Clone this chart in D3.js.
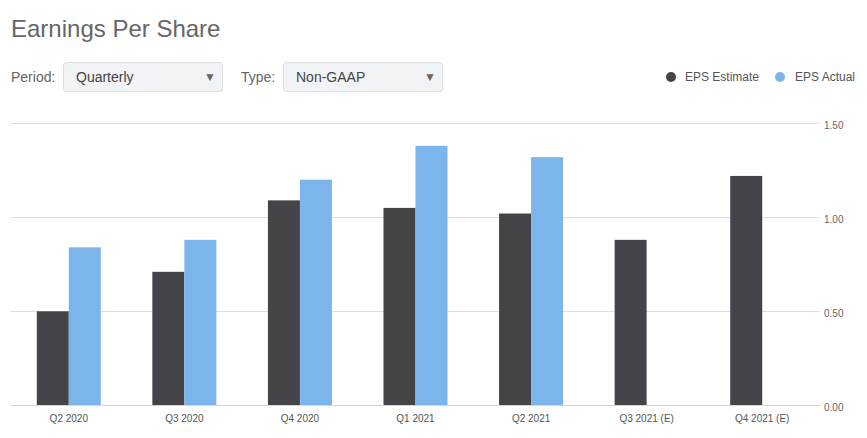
<!DOCTYPE html>
<html><head><meta charset="utf-8">
<script src="https://cdn.jsdelivr.net/npm/d3@7"></script>
<style>
body{margin:0;background:#fff;font-family:"Liberation Sans",Arial,sans-serif;}
</style></head>
<body><svg id="c" width="867" height="438"></svg>
<script>
const categories = ["Q2 2020","Q3 2020","Q4 2020","Q1 2021","Q2 2021","Q3 2021 (E)","Q4 2021 (E)"];
const epsEstimate = [0.50, 0.71, 1.09, 1.05, 1.02, 0.88, 1.22];
const epsActual = [0.84, 0.88, 1.20, 1.38, 1.32, null, null];
const yTicks = [0, 0.5, 1.0, 1.5];
const seriesNames = ["EPS Estimate","EPS Actual"];
const seriesColors = ["#434348","#7cb5ec"];

const svg = d3.select("#c");
const F = '"Liberation Sans",Arial,sans-serif';

svg.append("text").attr("x",11).attr("y",37).attr("font-size",24).attr("fill","#666").attr("font-family",F).text("Earnings Per Share");

function dropdown(lx, label, bx, bw, val){
  svg.append("text").attr("x",lx).attr("y",82).attr("font-size",14).attr("fill","#666").attr("font-family",F).text(label);
  svg.append("rect").attr("x",bx+0.5).attr("y",62.5).attr("width",bw).attr("height",29).attr("rx",3).attr("fill","#f2f3f6").attr("stroke","#dcdde0");
  svg.append("text").attr("x",bx+13).attr("y",82).attr("font-size",14).attr("fill","#444").attr("font-family",F).text(val);
  svg.append("text").attr("x",bx+bw-18).attr("y",81).attr("font-size",12).attr("fill","#666").attr("font-family",F).text("▼");
}
dropdown(11,"Period:",63,159,"Quarterly");
dropdown(241,"Type:",283,159,"Non-GAAP");

// legend
const leg = [{x:671,tx:685},{x:780,tx:795}];
seriesNames.forEach((n,i)=>{
  svg.append("circle").attr("cx",leg[i].x).attr("cy",77).attr("r",5).attr("fill",seriesColors[i]);
  svg.append("text").attr("x",leg[i].tx).attr("y",81).attr("font-size",12).attr("fill","#555").attr("font-family",F).text(n);
});

const x = d3.scaleBand().domain(categories).range([11,820]).padding(0);
const y = d3.scaleLinear().domain([0,1.5]).range([405.3,123.3]);

// gridlines
svg.append("g").selectAll("line").data(yTicks.filter(t=>t>0)).join("line")
  .attr("x1",11).attr("x2",820).attr("y1",d=>Math.round(y(d))+0.5).attr("y2",d=>Math.round(y(d))+0.5)
  .attr("stroke","#dedede").attr("stroke-width",1);

// y axis on right
const yAxis = d3.axisRight(y).tickValues(yTicks).tickFormat(d3.format(".2f")).tickSize(0).tickPadding(0);
const ya = svg.append("g").attr("transform","translate(824,0)").call(yAxis);
ya.select(".domain").remove();
ya.selectAll("text").attr("font-size",10).attr("fill","#666").attr("font-family",F).attr("dy","0.55em");

const bw = 32;
const bars = svg.append("g");
categories.forEach((c,i)=>{
  const cx = x(c)+x.bandwidth()/2;
  bars.append("rect").attr("x",cx-bw).attr("width",bw).attr("y",y(epsEstimate[i])).attr("height",y(0)-y(epsEstimate[i])).attr("fill",seriesColors[0]);
  if(epsActual[i]!=null){
    bars.append("rect").attr("x",cx).attr("width",bw).attr("y",y(epsActual[i])).attr("height",y(0)-y(epsActual[i])).attr("fill",seriesColors[1]);
  }
});

// x axis
const xAxis = d3.axisBottom(x).tickSize(0).tickPadding(10);
const xa = svg.append("g").attr("transform","translate(0,405)").call(xAxis);
xa.select(".domain").attr("stroke","#ccd6eb").attr("d","M11,0.5H820");
xa.selectAll("text").attr("font-size",10).attr("fill","#555").attr("font-family",F);
</script></body></html>
